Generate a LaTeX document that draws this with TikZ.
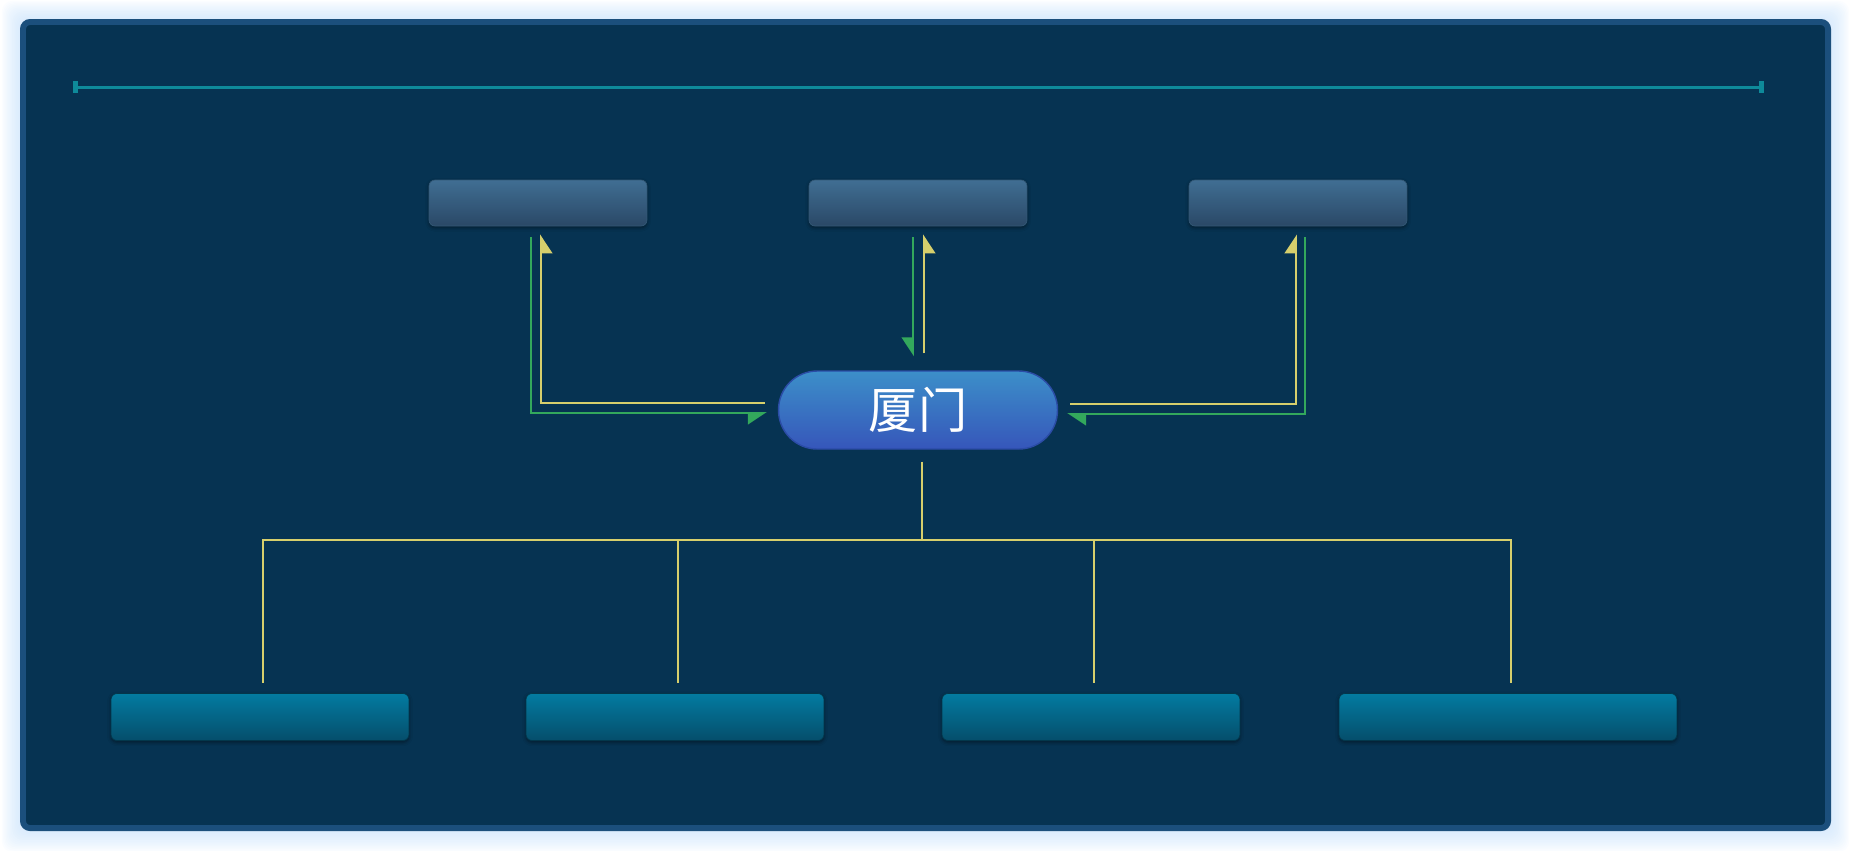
\documentclass[tikz,border=0pt]{standalone}
\usepackage{xcolor}
\usepackage{fontspec}
\usepackage{tikz}
\usetikzlibrary{arrows.meta}
\usetikzlibrary{shadows.blur}
\newfontfamily\cjkfont{Noto Sans CJK SC}
\definecolor{panelfill}{HTML}{063352}
\definecolor{panelrim}{HTML}{1B4F7C}
\definecolor{glowblue}{HTML}{BFDDFB}
\definecolor{rulerteal}{HTML}{0E8A9A}
\definecolor{lineyellow}{HTML}{D6CF6C}
\definecolor{linegreen}{HTML}{33A85C}
\definecolor{upperhi}{HTML}{406E93}
\definecolor{upperlo}{HTML}{2A4866}
\definecolor{lowerhi}{HTML}{037BA1}
\definecolor{lowerlo}{HTML}{054E6B}
\definecolor{hubhi}{HTML}{3C8FC9}
\definecolor{hublo}{HTML}{3656BA}
\definecolor{hubrim}{HTML}{2B4CA6}

\tikzset{
  upperbox/.style={rectangle, rounded corners=3.4pt, inner sep=0pt, minimum width=4.36cm, minimum height=0.92cm, top color=upperhi, bottom color=upperlo, draw=upperhi!80!black, line width=0.4pt, blur shadow={shadow xshift=0pt, shadow yshift=-1pt, shadow blur radius=2pt, shadow opacity=45}},
  lowerbox/.style={rectangle, rounded corners=3.4pt, inner sep=0pt, minimum width=5.96cm, minimum height=0.94cm, top color=lowerhi, bottom color=lowerlo, draw=lowerlo!70!black, line width=0.4pt, blur shadow={shadow xshift=0pt, shadow yshift=-1pt, shadow blur radius=2pt, shadow opacity=45}},
  hubnode/.style={rectangle, rounded corners=22pt, inner sep=0pt, minimum width=5.58cm, minimum height=1.56cm, top color=hubhi, bottom color=hublo, draw=hubrim, line width=0.8pt, text=white, font=\cjkfont\fontsize{28}{30}\selectfont},
  yline/.style={lineyellow, line width=1.1pt},
  gline/.style={linegreen, line width=1.1pt},
  lharp/.tip={Triangle[harpoon, length=10pt, width=13pt]},
  rharp/.tip={Triangle[harpoon, swap, length=10pt, width=13pt]}
}

\begin{document}
\begin{tikzpicture}[x=0.02cm, y=-0.02cm]
    \useasboundingbox (0,0) rectangle (1850,850);
    % glow and panel
    \foreach \g in {1,...,14} {\fill[glowblue, opacity=0.055, rounded corners=6pt] ({20-\g*1.3},{19-\g*1.3}) rectangle ({1831+\g*1.3},{831+\g*1.5});}
    \draw[panelrim, fill=panelfill, line width=3.4pt, rounded corners=4pt] (23,22) rectangle (1828,828);
    \coordinate (rulerL) at (73,87);
    \coordinate (rulerR) at (1764,87);
    \draw[rulerteal, line width=1.7pt, {Rectangle[length=3pt, width=6.4pt]}-{Rectangle[length=3pt, width=6.4pt]}] (rulerL) -- (rulerR);

    \node[upperbox] (top1) at (538,203) {};
    \node[upperbox] (top2) at (918,203) {};
    \node[upperbox] (top3) at (1298,203) {};
    \node[hubnode] (hub) at (918,410) {厦门};
    \node[lowerbox] (bot1) at (260,717) {};
    \node[lowerbox] (bot2) at (675,717) {};
    \node[lowerbox] (bot3) at (1091,717) {};
    \node[lowerbox, minimum width=6.76cm] (bot4) at (1508,717) {};

    % hub <-> upper boxes
    \draw[gline, -rharp] ([shift={(-7,11)}]top1.south) |- ([shift={(-11,3)}]hub.west);
    \draw[yline, -rharp] ([shift={(-13,-7)}]hub.west) -| ([shift={(3,8)}]top1.south);
    \draw[gline, -rharp] ([shift={(-5,11)}]top2.south) -- ([shift={(-5,-14)}]hub.north);
    \draw[yline, -rharp] ([shift={(6,-17)}]hub.north) -- ([shift={(6,8)}]top2.south);
    \draw[yline, -lharp] ([shift={(12,-6)}]hub.east) -| ([shift={(-2,8)}]top3.south);
    \draw[gline, -lharp] ([shift={(7,11)}]top3.south) |- ([shift={(9,4)}]hub.east);

    % hub -> lower boxes
    \coordinate (bus) at (922,540);
    \draw[yline] ([shift={(4,12)}]hub.south) -- (bus);
    \foreach \b in {bot1,bot2,bot3,bot4} {\draw[yline] (bus) -| ([shift={(3,-10)}]\b.north);}
\end{tikzpicture}
\end{document}
